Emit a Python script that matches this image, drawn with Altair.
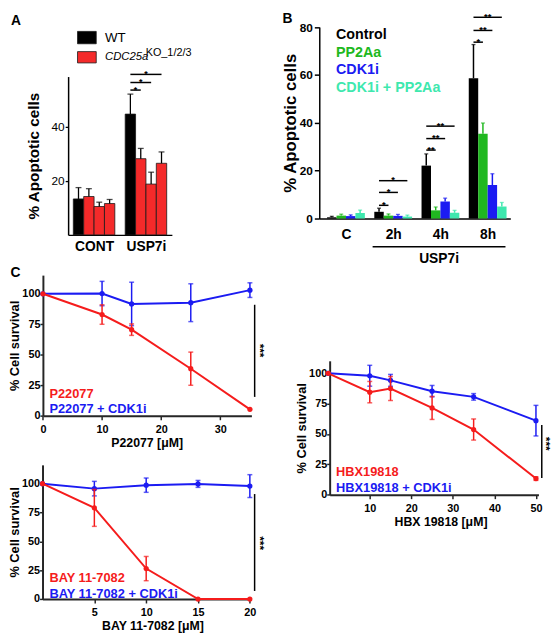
import altair as alt
import pandas as pd

FONT = "Liberation Sans"
RED = "#f51c1c"
BLUE = "#1b1bf2"
GREEN = "#20b820"
TEAL = "#3ee8ae"
BAR_RED = "#f42a2a"
DARK = "#262626"

# ---------------- data ----------------
# Panel A
a_groups = ["CONT", "USP7i"]
a_series = ["WT", "CDC25a KO_1", "CDC25a KO_2", "CDC25a KO_3"]
a_cont_mean = [13.3, 14.2, 10.5, 11.6]
a_cont_err = [4.2, 2.9, 1.6, 1.5]
a_usp7i_mean = [44.7, 28.2, 18.8, 26.5]
a_usp7i_err = [7.4, 3.8, 4.4, 4.2]
a_sig_group = [1, 1, 1]
a_sig_target = [1, 2, 3]
a_sig_height = [53.6, 56.4, 59.4]
a_sig_text = ["*", "*", "*"]

# Panel B
b_groups = ["C", "2h", "4h", "8h"]
b_series = ["Control", "PP2Aa", "CDK1i", "CDK1i + PP2Aa"]
b_control = [0.5, 2.8, 22.1, 58.6]
b_control_err = [0.4, 1.5, 4.9, 14.1]
b_pp2aa = [1.2, 1.2, 3.4, 35.4]
b_pp2aa_err = [0.6, 0.7, 1.4, 4.5]
b_cdk1i = [1.0, 1.1, 7.1, 14.0]
b_cdk1i_err = [0.5, 0.6, 1.4, 4.7]
b_combo = [2.3, 0.8, 2.4, 5.0]
b_combo_err = [1.2, 0.6, 1.0, 1.7]
b_sig_group = [1, 1, 1, 2, 2, 2, 3, 3, 3]
b_sig_target = [1, 2, 3, 1, 2, 3, 1, 2, 3]
b_sig_height = [5.5, 10.9, 15.8, 28.6, 33.4, 38.6, 73.7, 78.6, 84.1]
b_sig_text = ["*", "*", "*", "**", "**", "**", "*", "**", "**"]

# Panel C
p_dose = [0, 10, 15, 25, 35]
p_red = [100, 83.0, 70.6, 38.6, 5.3]
p_red_err = [0, 8.0, 4.7, 13.6, 0]
p_blue = [100, 100.2, 91.7, 92.7, 103.0]
p_blue_err = [0, 10.0, 17.8, 15.5, 6.0]

bay_dose = [0, 5, 10, 15, 20]
bay_red = [100, 79.0, 26.4, 0, 0]
bay_red_err = [0, 16.0, 10.5, 0, 0]
bay_blue = [100, 95.7, 98.7, 99.8, 97.9]
bay_blue_err = [0, 6.3, 6.2, 3.0, 9.9]

hbx_dose = [0, 10, 15, 25, 35, 50]
hbx_red = [100, 84.5, 87.5, 71.5, 53.7, 13.3]
hbx_red_err = [0, 8.8, 9.9, 9.5, 8.7, 1.5]
hbx_blue = [100, 98.0, 94.2, 85.3, 80.6, 61.0]
hbx_blue_err = [0, 8.6, 4.9, 4.7, 2.7, 12.6]

# ---------------- layout (figure pixel frame) ----------------
W_ALL, H_ALL = 552, 629
KX, X0 = 0.984, -1.0
KY, Y0 = 0.996, 2.5


def px(r):
    return round((r - X0) * KX, 2)


def py(r):
    return round((r - Y0) * KY, 2)


ONE = pd.DataFrame({"v": [0]})
BW = 0.2
FILL = alt.Color("fill:N", scale=None)


def txt(text, x, y, size, color="black", weight="bold", align="left",
        baseline="middle", style="normal", angle=0):
    return alt.Chart(ONE).mark_text(
        text=text, font=FONT, fontSize=size, fontWeight=weight, fontStyle=style,
        color=color, align=align, baseline=baseline, angle=angle,
    ).encode(x=alt.value(px(x)), y=alt.value(py(y)))


def bar_frame(groups, series, means, errs, colors):
    rows = []
    n = len(series)
    for gi, g in enumerate(groups):
        for k, s in enumerate(series):
            x0 = gi + (k - n / 2) * BW
            m = means[k][gi]
            rows.append({"group": g, "series": s, "x0": x0, "x1": x0 + BW, "fill": colors[k],
                         "xc": x0 + BW / 2, "base": 0.0, "mean": m, "top": m + errs[k][gi]})
    return pd.DataFrame(rows)


def sig_frame(groups_idx, targets, heights, texts, n):
    x1 = [g + (0 - n / 2) * BW + BW / 2 for g in groups_idx]
    x2 = [g + (t - n / 2) * BW + BW / 2 for g, t in zip(groups_idx, targets)]
    return pd.DataFrame({"x1": x1, "x2": x2, "xm": [(a + b) / 2 for a, b in zip(x1, x2)],
                         "y": heights, "label": texts})


def lab_expr(names):
    return "[" + ",".join("'" + n + "'" for n in names) + "][datum.value]"


def channels(xdom, xr, xaxis, ydom, yr, yaxis):
    xs = alt.Scale(domain=xdom, range=[px(xr[0]), px(xr[1])], nice=False, zero=False)
    ys = alt.Scale(domain=ydom, range=[py(yr[0]), py(yr[1])], nice=False, zero=False)
    xa = alt.Axis(orient="bottom", offset=py(yr[0]) - H_ALL, grid=False, **xaxis)
    ya = alt.Axis(orient="left", offset=-px(xr[0]), grid=False, **yaxis)

    def X(f):
        return alt.X(f, scale=xs, axis=xa, title=None)

    def Y(f):
        return alt.Y(f, scale=ys, axis=ya, title=None)
    return X, Y


# ---------------- Panel A ----------------
a_colors = ["black", BAR_RED, BAR_RED, BAR_RED]
a_df = bar_frame(a_groups, a_series, list(zip(a_cont_mean, a_usp7i_mean)),
                 list(zip(a_cont_err, a_usp7i_err)), a_colors)
XA, YA = channels(
    [-0.5, 1.5], (61, 168),
    dict(values=[0, 1], labelExpr=lab_expr(a_groups), domainColor="black", domainWidth=1.5,
         ticks=False, labelFont=FONT, labelFontSize=14, labelFontWeight="bold",
         labelColor="black", labelPadding=5, labelFlush=False),
    [0, 58.6], (229, 67.7),
    dict(values=[20, 40], domainColor="black", domainWidth=1.5, tickColor="black", tickWidth=1.3,
         tickSize=3, labelFont=FONT, labelFontSize=12, labelColor="black", labelPadding=1,
         labelFlush=False, title="% Apoptotic cells", titleFont=FONT, titleFontSize=15.5,
         titleFontWeight="bold", titleColor="black", titlePadding=10),
)
a_sig = sig_frame(a_sig_group, a_sig_target, a_sig_height, a_sig_text, len(a_series))
a_leg = pd.DataFrame({"x": [px(70.7)] * 2, "x2": [px(90)] * 2,
                      "y": [py(21.7), py(42.3)], "y2": [py(34.3), py(53.8)],
                      "fill": ["black", BAR_RED]})

panelA = alt.layer(
    alt.Chart(a_df).mark_bar(stroke="#1a1a1a", strokeWidth=0.8).encode(
        x=XA("x0:Q"), x2="x1:Q", y=YA("base:Q"), y2="mean:Q", color=FILL),
    alt.Chart(a_df).mark_rule(color="black", strokeWidth=1.3).encode(
        x=XA("xc:Q"), y=YA("mean:Q"), y2="top:Q"),
    alt.Chart(a_df).mark_tick(color="black", orient="horizontal", size=6, thickness=1.3).encode(
        x=XA("xc:Q"), y=YA("top:Q")),
    alt.Chart(a_sig).mark_rule(color="black", strokeWidth=1.5).encode(
        x=XA("x1:Q"), x2="x2:Q", y=YA("y:Q")),
    alt.Chart(a_sig).mark_text(font=FONT, fontSize=9, fontWeight="bold",
                               baseline="alphabetic", dy=2.5).encode(
        x=XA("xm:Q"), y=YA("y:Q"), text="label:N"),
    alt.Chart(a_leg).mark_rect(stroke="#1a1a1a", strokeWidth=0.8).encode(
        x=alt.X("x:Q", scale=None), x2="x2:Q", y=alt.Y("y:Q", scale=None), y2="y2:Q",
        color=FILL),
    txt("WT", 99, 28.3, 13.5, weight="normal"),
    txt("CDC25a", 99, 48.3, 11.5, weight="normal", style="italic"),
    txt("KO_1/2/3", 141, 43.3, 11, weight="normal"),
    txt("A", 2, 4, 14, baseline="top"),
)

# ---------------- Panel B ----------------
b_colors = ["black", GREEN, BLUE, TEAL]
b_df = bar_frame(b_groups, b_series, [b_control, b_pp2aa, b_cdk1i, b_combo],
                 [b_control_err, b_pp2aa_err, b_cdk1i_err, b_combo_err], b_colors)
XB, YB = channels(
    [-0.565, 3.48], (320, 517),
    dict(values=[0, 1, 2, 3], labelExpr=lab_expr(b_groups), domainColor="black",
         domainWidth=1.5, ticks=False, labelFont=FONT, labelFontSize=14,
         labelFontWeight="bold", labelColor="black", labelPadding=9, labelFlush=False),
    [0, 80], (212.3, 17.3),
    dict(values=[0, 20, 40, 60, 80], domainColor="black", domainWidth=1.5, tickColor="black",
         tickWidth=1.5, tickSize=5, labelFont=FONT, labelFontSize=12, labelFontWeight="bold",
         labelColor="black", labelPadding=2, labelFlush=False, title="% Apoptotic cells",
         titleFont=FONT, titleFontSize=17, titleFontWeight="bold", titleColor="black",
         titlePadding=0),
)
b_sig = sig_frame(b_sig_group, b_sig_target, b_sig_height, b_sig_text, len(b_series))

panelB = alt.layer(
    alt.Chart(b_df).mark_bar().encode(
        x=XB("x0:Q"), x2="x1:Q", y=YB("base:Q"), y2="mean:Q", color=FILL),
    alt.Chart(b_df).mark_rule(strokeWidth=1.5).encode(
        x=XB("xc:Q"), y=YB("mean:Q"), y2="top:Q", color=FILL),
    alt.Chart(b_df).mark_tick(orient="horizontal", size=4, thickness=1.3).encode(
        x=XB("xc:Q"), y=YB("top:Q"), color=FILL),
    alt.Chart(b_sig).mark_rule(color="black", strokeWidth=1.5).encode(
        x=XB("x1:Q"), x2="x2:Q", y=YB("y:Q")),
    alt.Chart(b_sig).mark_text(font=FONT, fontSize=9.5, fontWeight="bold",
                               baseline="alphabetic", dy=2.5).encode(
        x=XB("xm:Q"), y=YB("y:Q"), text="label:N"),
    *[txt(s, 337.3, 25.3 + i * 18.07, 14.5, color=c)
      for i, (s, c) in enumerate(zip(b_series, b_colors))],
    alt.Chart(ONE).mark_rule(color="black", strokeWidth=1.5).encode(
        x=alt.value(px(375)), x2=alt.value(px(512)), y=alt.value(py(241))),
    txt("USP7i", 443.5, 254, 14, align="center"),
    txt("B", 282, 1.7, 14, baseline="top"),
)


# ---------------- Panel C ----------------
def survival(dose, red, red_err, blue, blue_err, xdom, xr, ydom, yr, xticks, xtitle, title_x,
             red_name, blue_name, sig_x, sig_y, star_x, star_y, leg_x, leg_y):
    rows = []
    for name, ys, es in [("blue", blue, blue_err), ("red", red, red_err)]:
        for x, y, e in zip(dose, ys, es):
            rows.append({"series": name, "x": x, "y": y, "lo": y - e, "hi": y + e, "err": e})
    df = pd.DataFrame(rows)
    X, Y = channels(
        xdom, xr,
        dict(values=xticks, title=xtitle, titleX=px(title_x), domainColor=DARK, domainWidth=2,
             tickColor=DARK, tickWidth=1.5, tickSize=4, labelFont=FONT, labelFontSize=11,
             labelFontWeight="bold", labelColor="black", labelPadding=4, labelFlush=False,
             titleFont=FONT, titleFontSize=12.5, titleFontWeight="bold", titleColor="black",
             titlePadding=2),
        ydom, yr,
        dict(values=[0, 25, 50, 75, 100], title="% Cell survival", domainColor=DARK,
             domainWidth=2, tickColor=DARK, tickWidth=1.5, tickSize=3, labelFont=FONT,
             labelFontSize=11, labelFontWeight="bold", labelColor="black", labelPadding=0,
             labelFlush=False, titleFont=FONT, titleFontSize=13, titleFontWeight="bold",
             titleColor="black", titlePadding=0),
    )
    layers = []
    for name, col in [("blue", BLUE), ("red", RED)]:
        base = alt.Chart(df).transform_filter(alt.datum.series == name)
        eb = base.transform_filter(alt.datum.err > 0)
        layers.append(base.mark_line(color=col, strokeWidth=2).encode(x=X("x:Q"), y=Y("y:Q")))
        layers.append(eb.mark_rule(color=col, strokeWidth=1.5).encode(
            x=X("x:Q"), y=Y("lo:Q"), y2="hi:Q"))
        for f in ["lo", "hi"]:
            layers.append(eb.mark_tick(color=col, orient="horizontal", size=5, thickness=1.5).encode(
                x=X("x:Q"), y=Y(f + ":Q")))
        layers.append(base.mark_point(filled=True, color=col, size=28, opacity=1).encode(
            x=X("x:Q"), y=Y("y:Q")))
    sig = pd.DataFrame({"x": [sig_x], "y": [sig_y[0]], "y2": [sig_y[1]],
                        "sx": [star_x], "sy": [star_y]})
    layers.append(alt.Chart(sig).mark_rule(color="black", strokeWidth=1.5).encode(
        x=X("x:Q"), y=Y("y:Q"), y2="y2:Q"))
    layers.append(alt.Chart(sig).mark_text(text="***", font=FONT, fontSize=12, fontWeight="bold",
                                           angle=90, align="center", baseline="middle").encode(
        x=X("sx:Q"), y=Y("sy:Q")))
    layers.append(txt(red_name, leg_x, leg_y[0], 13, color=RED))
    layers.append(txt(blue_name, leg_x, leg_y[1], 13, color=BLUE))
    return layers


panelC1 = alt.layer(*survival(
    p_dose, p_red, p_red_err, p_blue, p_blue_err, [0, 35.25], (35, 250), [0, 115.3], (413.3, 270),
    [0, 10, 20, 30], "P22077 [\u03bcM]", 142, "P22077", "P22077 + CDK1i",
    35.8, (91, 15.5), 36.7, 53.5, 41.7, (390.8, 406.7)),
    txt("C", 1.5, 260.7, 14, baseline="top"))
panelC2 = alt.layer(*survival(
    bay_dose, bay_red, bay_red_err, bay_blue, bay_blue_err, [0, 20.15], (34.6, 250), [0, 116.3],
    (600, 463.3), [5, 10, 15, 20], "BAY 11-7082 [\u03bcM]", 148, "BAY 11-7082",
    "BAY 11-7082 + CDK1i", 20.46, (91, 7), 20.95, 48.5, 41.7, (578.3, 595)))
panelH = alt.layer(*survival(
    hbx_dose, hbx_red, hbx_red_err, hbx_blue, hbx_blue_err, [0.35, 50.6], (330.7, 546),
    [0, 110.3], (493.7, 357.3), [10, 20, 30, 40, 50], "HBX 19818 [\u03bcM]", 445, "HBX19818",
    "HBX19818 + CDK1i", 51.4, (57.4, 13.7), 52.3, 42, 337.3, (470.7, 486.7)))

chart = alt.layer(panelA, panelB, panelC1, panelC2, panelH).resolve_scale(
    x="independent", y="independent"
).properties(
    width=W_ALL, height=H_ALL, padding=0, autosize=alt.AutoSizeParams(type="none"),
).configure_view(stroke=None)

chart.save("out.html", embed_options={"renderer": "svg", "actions": False})
